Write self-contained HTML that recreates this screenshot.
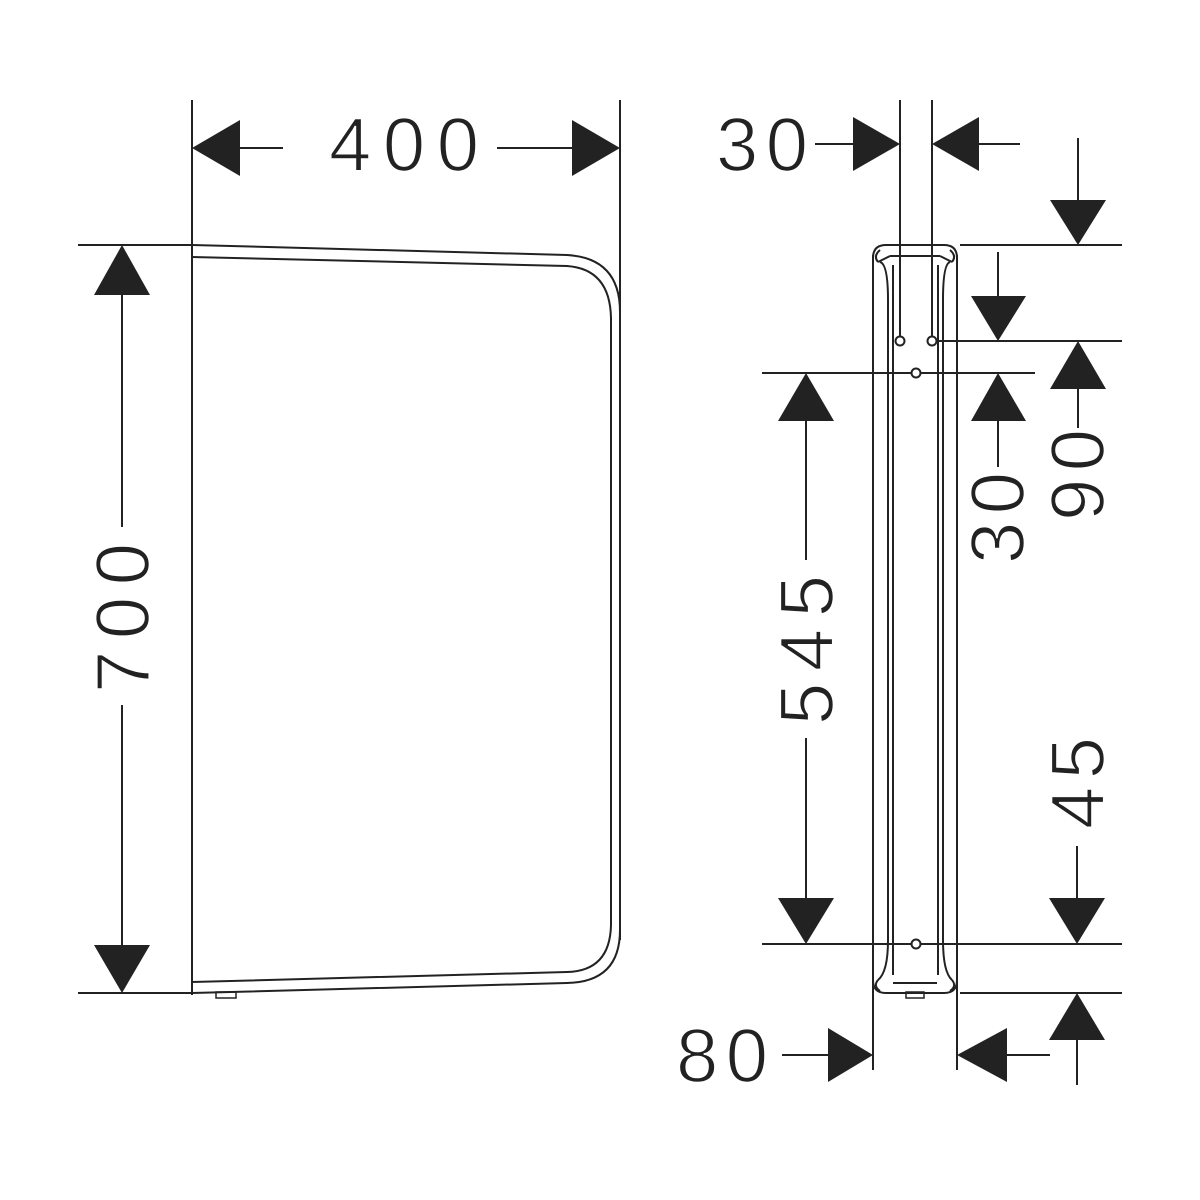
<!DOCTYPE html>
<html><head><style>html,body{margin:0;padding:0;background:#fff}svg{display:block}</style></head>
<body>
<svg width="1200" height="1200" viewBox="0 0 1200 1200" xmlns="http://www.w3.org/2000/svg">
<g stroke="#222" stroke-width="2" fill="none">
<!-- LEFT VIEW -->
<line x1="192" y1="100" x2="192" y2="995"/>
<line x1="620" y1="100" x2="620" y2="940"/>
<line x1="78" y1="245" x2="192" y2="245"/>
<line x1="78" y1="993" x2="192" y2="993"/>
<path d="M192,245 L567,255 Q620,258 620,312 L620,930 Q620,982 567,983 L192,993"/>
<path d="M192,257 L567,266 Q610,269 611,318 L611,925 Q610,971 567,972 L192,982"/>
<rect x="216" y="992" width="20" height="6" stroke-width="1.5"/>
<line x1="240" y1="148" x2="283" y2="148"/>
<line x1="497" y1="148" x2="572" y2="148"/>
<line x1="122" y1="295" x2="122" y2="527"/>
<line x1="122" y1="705" x2="122" y2="945"/>

<!-- RIGHT VIEW -->
<line x1="873" y1="255" x2="873" y2="1070"/>
<line x1="957" y1="255" x2="957" y2="1070"/>
<line x1="900" y1="100" x2="900" y2="337"/>
<line x1="932" y1="100" x2="932" y2="337"/>
<path d="M873,258 Q873,245 886,245 L944,245 Q957,245 957,258"/>
<path d="M873,980 Q873,993 886,993 L944,993 Q957,993 957,980"/>
<line x1="890" y1="256" x2="940" y2="256"/>
<line x1="893" y1="983" x2="937" y2="983"/>
<path d="M878,262 L890,256 M880,262 Q888,264 888,300 L888,940 Q888,972 878,980"/>
<path d="M952,262 L940,256 M950,262 Q943,264 943,300 L943,940 Q943,972 952,980"/>
<path d="M878,262 Q873,256 880,250 M952,262 Q957,256 950,250"/>
<path d="M878,980 Q873,986 880,991 M952,980 Q957,986 950,991"/>
<line x1="893" y1="265" x2="893" y2="975"/>
<line x1="938" y1="265" x2="938" y2="975"/>
<rect x="906" y="992" width="18" height="6" stroke-width="1.5"/>
<circle cx="900" cy="341" r="4.5"/>
<circle cx="932" cy="341" r="4.5"/>
<circle cx="916" cy="373" r="4.5"/>
<circle cx="916" cy="944" r="4.5"/>
<line x1="960" y1="245" x2="1122" y2="245"/>
<line x1="937" y1="341" x2="1122" y2="341"/>
<line x1="762" y1="373" x2="911" y2="373"/>
<line x1="921" y1="373" x2="1035" y2="373"/>
<line x1="762" y1="944" x2="911" y2="944"/>
<line x1="921" y1="944" x2="1122" y2="944"/>
<line x1="960" y1="993" x2="1122" y2="993"/>
<line x1="815" y1="144" x2="853" y2="144"/>
<line x1="979" y1="144" x2="1020" y2="144"/>
<line x1="1078" y1="138" x2="1078" y2="200"/>
<line x1="998" y1="252" x2="998" y2="296"/>
<line x1="1078" y1="389" x2="1078" y2="428"/>
<line x1="998" y1="421" x2="998" y2="467"/>
<line x1="806" y1="421" x2="806" y2="560"/>
<line x1="806" y1="738" x2="806" y2="898"/>
<line x1="1077" y1="846" x2="1077" y2="898"/>
<line x1="1077" y1="1040" x2="1077" y2="1085"/>
<line x1="782" y1="1055" x2="828" y2="1055"/>
<line x1="1007" y1="1055" x2="1050" y2="1055"/>
</g>
<g fill="#222">
<polygon points="192,148 240,120 240,176"/>
<polygon points="620,148 572,120 572,176"/>
<polygon points="122,245 94,295 150,295"/>
<polygon points="122,993 94,945 150,945"/>
<polygon points="900,144 853,117 853,171"/>
<polygon points="932,144 979,117 979,171"/>
<polygon points="1078,245 1050,200 1106,200"/>
<polygon points="998,341 971,296 1026,296"/>
<polygon points="1078,341 1050,389 1106,389"/>
<polygon points="998,373 971,421 1026,421"/>
<polygon points="806,373 778,421 834,421"/>
<polygon points="806,944 778,898 834,898"/>
<polygon points="1077,944 1049,898 1105,898"/>
<polygon points="1077,993 1049,1040 1105,1040"/>
<polygon points="873,1055 828,1028 828,1082"/>
<polygon points="957,1055 1007,1028 1007,1082"/>
</g>
<g font-family="Liberation Sans, sans-serif" font-size="76" fill="#222" stroke="#fff" stroke-width="1.6" text-anchor="middle">
<text x="404" y="171" textLength="150" lengthAdjust="spacing">400</text>
<text x="762" y="171" textLength="92" lengthAdjust="spacing">30</text>
<text x="722" y="1082" textLength="92" lengthAdjust="spacing">80</text>
<text transform="translate(149,618) rotate(-90)" textLength="150" lengthAdjust="spacing">700</text>
<text transform="translate(833,650) rotate(-90)" textLength="150" lengthAdjust="spacing">545</text>
<text transform="translate(1104,475) rotate(-90)" textLength="92" lengthAdjust="spacing">90</text>
<text transform="translate(1024,518) rotate(-90)" textLength="92" lengthAdjust="spacing">30</text>
<text transform="translate(1104,783) rotate(-90)" textLength="92" lengthAdjust="spacing">45</text>
</g>
</svg>
</body></html>
